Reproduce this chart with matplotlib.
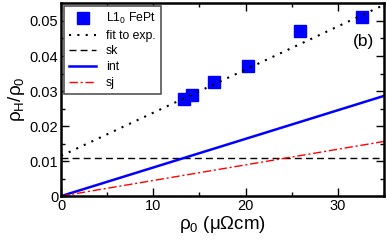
import numpy as np
from matplotlib import pyplot as plt
from matplotlib.ticker import MultipleLocator

plt.rcParams['font.family'] = ['Liberation Sans', 'DejaVu Sans']
plt.rcParams['mathtext.fontset'] = 'custom'
plt.rcParams['mathtext.rm'] = 'Liberation Sans'
plt.rcParams['mathtext.it'] = 'Liberation Sans'

# measured points (L1_0 FePt)
rho0_exp = [13.3, 14.2, 16.6, 20.3, 25.9, 32.6]
ratio_exp = [0.0277, 0.0289, 0.0326, 0.0371, 0.0471, 0.0511]

# line ends
x_line = [0, 35]
fit_line = [0.0115, 0.0546]
sk_line = [0.011, 0.011]
int_line = [0, 0.0286]
sj_line = [0, 0.0156]

fig = plt.figure(figsize=(3.87, 2.40), dpi=100)
ax = fig.add_axes([0.158, 0.183, 0.834, 0.804])

ax.plot(rho0_exp, ratio_exp, 's', color='#0000ff', ms=8, label='L1$_0$ FePt', zorder=3)
ax.plot(x_line, fit_line, ':', color='black', lw=1.5, dashes=(1, 3), label='fit to exp.', zorder=4)
ax.plot(x_line, sk_line, '--', color='black', lw=1.0, dashes=(5, 3), label='sk')
ax.plot(x_line, int_line, '-', color='#0000ff', lw=1.8, label='int')
ax.plot(x_line, sj_line, '-.', color='red', lw=1.0, dashes=(6, 2, 1.5, 2), label='sj')

ax.set_xlim(0, 35)
ax.set_ylim(0, 0.0551)
ax.xaxis.set_major_locator(MultipleLocator(10))
ax.xaxis.set_minor_locator(MultipleLocator(5))
ax.yaxis.set_major_locator(MultipleLocator(0.01))
ax.yaxis.set_minor_locator(MultipleLocator(0.005))
ax.set_yticks([0, 0.01, 0.02, 0.03, 0.04, 0.05])
ax.set_yticklabels(['0', '0.01', '0.02', '0.03', '0.04', '0.05'])
ax.tick_params(which='both', direction='in', top=True, right=True, labelsize=10.5, pad=2)
ax.tick_params(which='major', length=6, width=1)
ax.tick_params(which='minor', length=3, width=1)
for s in ax.spines.values():
    s.set_linewidth(1.8)

ax.set_xlabel('ρ$_0$ (μΩcm)', fontsize=13.5, labelpad=1)
ax.set_ylabel('ρ$_H$/ρ$_0$', fontsize=13.5, labelpad=2)
ax.text(0.905, 0.78, '(b)', transform=ax.transAxes, fontsize=12.5)

leg = ax.legend(loc='upper left', fontsize=8.8, frameon=True, fancybox=False,
                handlelength=2.2, handletextpad=0.8, labelspacing=0.3,
                borderpad=0.4, borderaxespad=0.25, markerscale=1.15)
leg.get_frame().set_edgecolor('#555555')
leg.get_frame().set_linewidth(1.2)
leg.get_frame().set_alpha(1)

fig.savefig('out.png', dpi=100)
